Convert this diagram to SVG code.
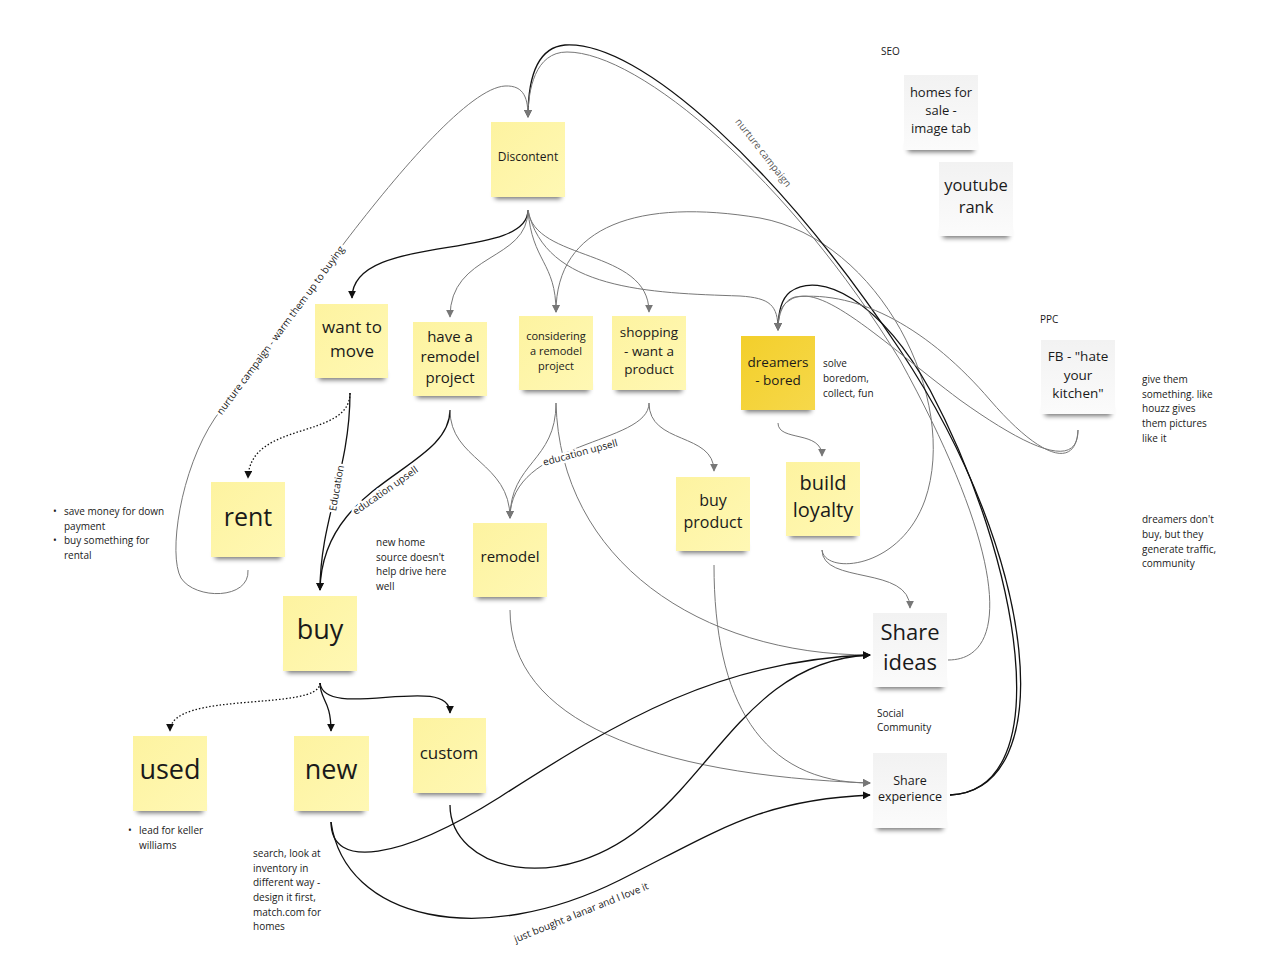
<svg xmlns="http://www.w3.org/2000/svg" width="1262" height="975" viewBox="0 0 1262 975">
<style>
text{font-family:"Open Sans","Noto Sans","Liberation Sans",sans-serif;fill:#1a1a1a}
.t{text-anchor:middle}
.s{font-size:10px}
.y{fill:url(#gy)}
.d{fill:url(#gd)}
.w{fill:url(#gw)}
.sh{fill:#000;opacity:.55;filter:url(#blur)}
.k{fill:none;stroke:#111;stroke-width:1.3;marker-end:url(#ak)}
.g{fill:none;stroke:#777;stroke-width:1;marker-end:url(#ag)}
.dot{fill:none;stroke:#111;stroke-width:1.3;stroke-dasharray:1.5 2;marker-end:url(#ak)}
.lbl{font-size:10px;text-anchor:middle;stroke:#fff;stroke-width:5;paint-order:stroke;stroke-linejoin:round}
.lg{font-size:10px;fill:#555;text-anchor:middle}
</style>
<defs>
<linearGradient id="gy" x1="0" y1="0" x2="1" y2="1"><stop offset="0" stop-color="#fdf3a0"/><stop offset="1" stop-color="#fff8b4"/></linearGradient>
<linearGradient id="gd" x1="0" y1="0" x2="1" y2="1"><stop offset="0" stop-color="#f3cf2b"/><stop offset="1" stop-color="#f6d84a"/></linearGradient>
<linearGradient id="gw" x1="0" y1="0" x2="0" y2="1"><stop offset="0" stop-color="#f2f2f2"/><stop offset="1" stop-color="#fbfbfb"/></linearGradient>
<filter id="blur" x="-20%" y="-100%" width="140%" height="300%"><feGaussianBlur stdDeviation="2.5"/></filter>
<marker id="ak" viewBox="0 0 10 10" refX="9" refY="5" markerWidth="8" markerHeight="8" markerUnits="userSpaceOnUse" orient="auto"><path d="M0,0 L10,5 L0,10 Z" fill="#111"/></marker>
<marker id="ag" viewBox="0 0 10 10" refX="9" refY="5" markerWidth="8" markerHeight="8" markerUnits="userSpaceOnUse" orient="auto"><path d="M0,0 L10,5 L0,10 Z" fill="#777"/></marker>
</defs>
<rect width="1262" height="975" fill="#fff"/>

<g id="connectors">
<path class="k" d="M528,210 C528,262 352,232 352,298"/>
<path class="g" d="M528,210 C528,262 450,252 450,317"/>
<path class="g" d="M528,210 C532,262 556,262 556,312"/>
<path class="g" d="M528,210 C534,262 649,248 649,312"/>
<path class="g" d="M528,210 C545,290 650,293 740,296 C770,298 778,305 778,330"/>
<path class="dot" d="M350,393 C350,440 250,420 248,478"/>
<path class="k" d="M350,393 C350,470 320,520 320,590"/>
<path class="k" d="M450,410 C450,470 322,480 320,590"/>
<path class="g" d="M450,410 C450,460 510,462 510,518"/>
<path class="g" d="M556,403 C556,462 510,462 510,518"/>
<path class="g" d="M556,403 C560,560 700,655 870,655"/>
<path class="g" d="M649,403 C649,445 510,440 510,518"/>
<path class="g" d="M649,403 C649,445 714,432 714,471"/>
<path class="g" d="M778,423 C778,442 822,430 822,456"/>
<path class="g" d="M822,550 C822,585 910,565 910,608"/>
<path class="g" d="M822,550 C825,575 900,570 925,500 C960,400 880,240 760,218 C640,198 556,225 556,312"/>
<path class="dot" d="M320,683 C320,712 170,690 170,731"/>
<path class="k" d="M320,683 C320,700 331,700 331,731"/>
<path class="k" d="M320,683 C325,722 450,672 450,713"/>
<path class="g" d="M510,610 C510,720 650,775 870,783"/>
<path class="g" d="M714,565 C714,700 760,783 870,783"/>
<path class="k" d="M331,822 C331,870 400,860 500,797 C620,720 720,660 870,655"/>
<path class="k" d="M450,805 C450,870 560,900 650,820 C720,760 760,660 870,655"/>
<path class="k" d="M331,822 C345,920 480,950 620,880 C720,830 760,800 870,795"/>
<path class="k" d="M950,795 C1060,790 1040,560 900,350 C780,170 640,40 565,45 C532,48 528,90 528,117"/>
<path class="k" d="M950,795 C1060,790 1020,560 930,390 C880,300 820,270 790,292 C780,300 778,315 778,330"/>
<path class="g" d="M948,660 C1010,660 1010,560 900,360 C790,180 640,52 567,52 C535,52 528,90 528,117"/>
<path class="g" d="M1078,430 C1078,470 1030,450 960,400 C880,340 820,280 790,300 C780,306 778,315 778,330"/>
<path class="g" d="M1078,430 C1076,470 1040,458 990,400 C930,330 860,290 795,297 C783,300 778,315 778,330"/>
<path class="g" d="M248,570 C250,600 195,600 181,578 C168,555 180,470 215,418 L345,242 C400,170 470,88 505,86 C525,85 528,100 528,117"/>
</g>

<g id="connector-labels">
<text class="lbl" x="336" y="492" transform="rotate(-80 336 488)">Education</text>
<text class="lbl" x="385" y="494" transform="rotate(-35 385 490)">education upsell</text>
<text class="lbl" x="580" y="456" transform="rotate(-15 580 452)">education upsell</text>
<text class="lg" x="763" y="156" transform="rotate(52 763 153)">nurture campaign</text>
<text class="lbl" x="280" y="334" transform="rotate(-53.5 280 330)">nurture campaign - warm them up to buying</text>
<text class="lbl" x="581" y="916" transform="rotate(-22 581 912)">just bought a lanar and I love it</text>
</g>

<g id="discontent"><rect class="sh" x="495" y="190" width="66" height="9"/><rect class="y" x="491" y="122" width="74" height="75"/><text class="t" x="528" y="161" font-size="12">Discontent</text></g>
<g id="want-to-move"><rect class="sh" x="319" y="371" width="66" height="9"/><rect class="y" x="315" y="304" width="73" height="74"/><text class="t" x="352" y="333" font-size="17">want to</text><text class="t" x="352" y="357" font-size="17">move</text></g>
<g id="have-remodel"><rect class="sh" x="417" y="389" width="66" height="9"/><rect class="y" x="413" y="322" width="74" height="74"/><text class="t" x="450" y="342" font-size="15">have a</text><text class="t" x="450" y="362" font-size="15">remodel</text><text class="t" x="450" y="383" font-size="15">project</text></g>
<g id="considering"><rect class="sh" x="523" y="383" width="66" height="9"/><rect class="y" x="519" y="316" width="74" height="74"/><text class="t" x="556" y="340" font-size="11">considering</text><text class="t" x="556" y="355" font-size="11">a remodel</text><text class="t" x="556" y="370" font-size="11">project</text></g>
<g id="shopping"><rect class="sh" x="616" y="383" width="66" height="9"/><rect class="y" x="612" y="316" width="74" height="74"/><text class="t" x="649" y="337" font-size="13.5">shopping</text><text class="t" x="649" y="356" font-size="13.5">- want a</text><text class="t" x="649" y="374" font-size="13.5">product</text></g>
<g id="dreamers"><rect class="sh" x="745" y="403" width="66" height="9"/><rect class="d" x="741" y="336" width="74" height="74"/><text class="t" x="778" y="367" font-size="13.5">dreamers</text><text class="t" x="778" y="385" font-size="13.5">- bored</text></g>
<g id="rent"><rect class="sh" x="215" y="550" width="66" height="9"/><rect class="y" x="211" y="482" width="74" height="75"/><text class="t" x="248" y="526" font-size="25">rent</text></g>
<g id="buy"><rect class="sh" x="287" y="664" width="66" height="9"/><rect class="y" x="283" y="596" width="74" height="75"/><text class="t" x="320" y="639" font-size="27">buy</text></g>
<g id="remodel"><rect class="sh" x="477" y="590" width="66" height="9"/><rect class="y" x="473" y="523" width="74" height="74"/><text class="t" x="510" y="562" font-size="15">remodel</text></g>
<g id="buy-product"><rect class="sh" x="680" y="544" width="66" height="9"/><rect class="y" x="676" y="477" width="74" height="74"/><text class="t" x="713" y="506" font-size="16">buy</text><text class="t" x="713" y="528" font-size="16">product</text></g>
<g id="build-loyalty"><rect class="sh" x="790" y="529" width="66" height="9"/><rect class="y" x="786" y="462" width="74" height="74"/><text class="t" x="823" y="490" font-size="20">build</text><text class="t" x="823" y="517" font-size="20">loyalty</text></g>
<g id="used"><rect class="sh" x="137" y="804" width="66" height="9"/><rect class="y" x="133" y="736" width="74" height="75"/><text class="t" x="170" y="779" font-size="27">used</text></g>
<g id="new"><rect class="sh" x="298" y="804" width="66" height="9"/><rect class="y" x="294" y="736" width="75" height="75"/><text class="t" x="331" y="779" font-size="27">new</text></g>
<g id="custom"><rect class="sh" x="417" y="786" width="66" height="9"/><rect class="y" x="413" y="718" width="73" height="75"/><text class="t" x="449" y="759" font-size="17">custom</text></g>
<g id="share-ideas"><rect class="sh" x="877" y="680" width="66" height="9"/><rect class="w" x="873" y="613" width="74" height="74"/><text class="t" x="910" y="640" font-size="22">Share</text><text class="t" x="910" y="670" font-size="22">ideas</text></g>
<g id="share-experience"><rect class="sh" x="877" y="821" width="66" height="9"/><rect class="w" x="873" y="753" width="74" height="75"/><text class="t" x="910" y="785" font-size="12.5">Share</text><text class="t" x="910" y="801" font-size="12.5">experience</text></g>
<g id="homes-for-sale"><rect class="sh" x="908" y="143" width="66" height="9"/><rect class="w" x="904" y="75" width="74" height="75"/><text class="t" x="941" y="97" font-size="13">homes for</text><text class="t" x="941" y="115" font-size="13">sale -</text><text class="t" x="941" y="133" font-size="13">image tab</text></g>
<g id="youtube-rank"><rect class="sh" x="943" y="229" width="66" height="9"/><rect class="w" x="939" y="162" width="74" height="74"/><text class="t" x="976" y="191" font-size="16.5">youtube</text><text class="t" x="976" y="213" font-size="16.5">rank</text></g>
<g id="fb-kitchen"><rect class="sh" x="1045" y="407" width="66" height="9"/><rect class="w" x="1041" y="340" width="74" height="74"/><text class="t" x="1078" y="361" font-size="13.5">FB - "hate</text><text class="t" x="1078" y="380" font-size="13.5">your</text><text class="t" x="1078" y="398" font-size="13.5">kitchen"</text></g>

<g id="notes">
<text class="s" x="881" y="55" font-size="9">SEO</text>
<text class="s" x="1040" y="323" font-size="9">PPC</text>
<text class="s" x="823" y="367">solve</text><text class="s" x="823" y="382">boredom,</text><text class="s" x="823" y="397">collect, fun</text>
<text class="s" x="1142" y="383">give them</text><text class="s" x="1142" y="398">something. like</text><text class="s" x="1142" y="412">houzz gives</text><text class="s" x="1142" y="427">them pictures</text><text class="s" x="1142" y="442">like it</text>
<text class="s" x="1142" y="523">dreamers don't</text><text class="s" x="1142" y="538">buy, but they</text><text class="s" x="1142" y="553">generate traffic,</text><text class="s" x="1142" y="567">community</text>
<text class="s" x="877" y="717">Social</text><text class="s" x="877" y="731">Community</text>
<text class="s" x="53" y="515">•</text><text class="s" x="64" y="515">save money for down</text><text class="s" x="64" y="530">payment</text>
<text class="s" x="53" y="544">•</text><text class="s" x="64" y="544">buy something for</text><text class="s" x="64" y="559">rental</text>
<text class="s" x="128" y="834">•</text><text class="s" x="139" y="834">lead for keller</text><text class="s" x="139" y="849">williams</text>
<text class="s" x="253" y="857">search, look at</text><text class="s" x="253" y="872">inventory in</text><text class="s" x="253" y="886">different way -</text><text class="s" x="253" y="901">design it first,</text><text class="s" x="253" y="916">match.com for</text><text class="s" x="253" y="930">homes</text>
<text class="s" x="376" y="546">new home</text><text class="s" x="376" y="561">source doesn't</text><text class="s" x="376" y="575">help drive here</text><text class="s" x="376" y="590"> well</text>
</g>
</svg>
